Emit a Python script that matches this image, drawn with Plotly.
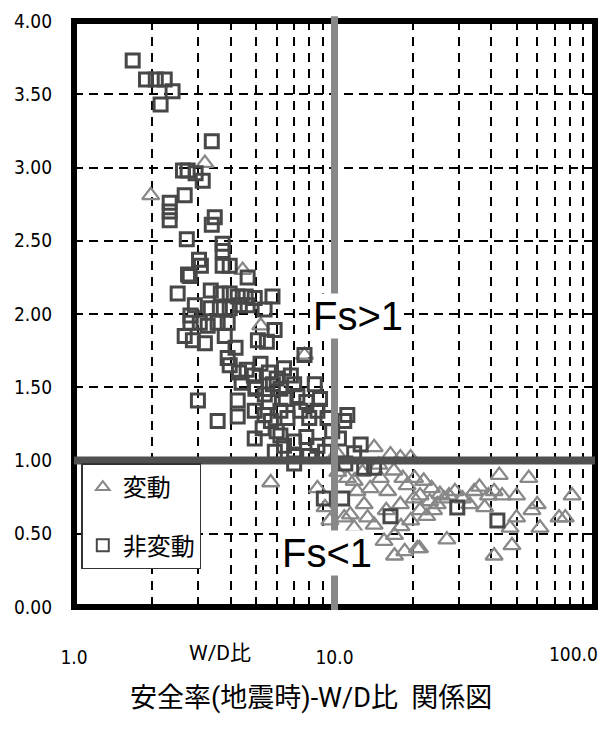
import math
import plotly.graph_objects as go

# ---------------- data ----------------
# 非変動 (squares)
nonvar_x = [1.68, 1.89, 2.06, 2.23, 2.39, 2.15, 3.38, 2.62, 2.73, 2.93, 3.12, 2.66, 2.33, 2.33, 2.33,
            3.47, 3.38, 2.71, 3.72, 3.72, 3.07, 2.78, 3.72, 3.96, 4.64, 2.50, 3.35, 3.66, 3.96, 4.25,
            4.56, 4.94, 5.78, 2.91, 3.35, 3.63, 3.96, 4.33, 4.64, 5.39, 2.80, 2.80, 3.04, 3.26, 3.56,
            3.89, 5.89, 2.66, 2.86, 3.18, 3.79, 4.17, 5.08, 5.50, 3.89, 7.67, 3.96, 4.30, 4.60, 4.90,
            5.20, 5.60, 6.00, 6.40, 6.80, 4.40, 5.00, 5.40, 5.80, 6.20, 7.00, 8.40, 2.99, 4.25, 3.56,
            4.25, 4.94, 5.39, 5.70, 6.20, 6.60, 7.40, 8.00, 8.60, 9.40, 11.2, 10.9, 4.94, 6.20, 7.00,
            7.80, 8.60, 9.20, 12.6, 11.9, 7.00, 8.00, 13.0, 14.2, 7.00, 11.0, 9.10, 10.7, 16.4, 29.6,
            42.2, 4.97, 5.60, 6.50, 7.20, 7.80, 8.80, 5.30, 6.00, 9.80, 10.4, 5.90, 6.40, 2.74, 3.02]
nonvar_y = [3.73, 3.60, 3.60, 3.60, 3.52, 3.43, 3.18, 2.98, 2.98, 2.96, 2.91, 2.81, 2.76, 2.70, 2.64,
            2.66, 2.61, 2.51, 2.48, 2.43, 2.33, 2.26, 2.33, 2.33, 2.25, 2.14, 2.16, 2.14, 2.14, 2.12,
            2.12, 2.11, 2.12, 2.06, 2.04, 2.04, 2.04, 2.06, 2.06, 2.03, 1.99, 1.94, 1.94, 1.92, 1.94,
            1.94, 1.89, 1.85, 1.82, 1.80, 1.85, 1.77, 1.82, 1.81, 1.70, 1.72, 1.65, 1.60, 1.62, 1.58,
            1.66, 1.60, 1.56, 1.63, 1.58, 1.53, 1.50, 1.45, 1.52, 1.49, 1.52, 1.52, 1.41, 1.41, 1.27,
            1.30, 1.34, 1.31, 1.27, 1.34, 1.29, 1.34, 1.29, 1.34, 1.29, 1.31, 1.27, 1.15, 1.17, 1.13,
            1.16, 1.10, 1.06, 1.11, 1.05, 1.03, 1.03, 0.95, 0.95, 0.98, 0.98, 0.74, 0.74, 0.62, 0.68,
            0.59, 1.49, 1.40, 1.42, 1.44, 1.40, 1.42, 1.22, 1.20, 1.20, 1.15, 1.06, 1.10, 2.27, 2.37]

# 変動 (triangles)
var_x = [1.97, 3.18, 4.44, 5.21, 7.67, 5.69, 11.2, 12.2, 13.7, 15.0, 16.4, 17.9, 14.2, 19.6, 9.6,
         11.5, 11.9, 13.4, 14.2, 12.2, 15.5, 17.0, 17.0, 18.6, 20.8, 19.6, 21.3, 17.9, 20.2, 16.0,
         19.0, 11.9, 10.9, 20.3, 21.3, 23.2, 24.8, 26.3, 27.5, 27.0, 21.2, 34.4, 37.7, 42.9, 44.0,
         41.0, 41.0, 48.0, 47.2, 50.0, 50.0, 55.7, 57.3, 60.0, 61.5, 72.8, 76.9, 81.7, 10.2, 12.8,
         14.8, 16.9, 18.3, 22.0, 23.6, 25.4, 29.0, 31.0, 33.0, 36.0, 39.0, 9.2, 8.6, 15.8, 22.6,
         18.0, 24.0, 13.0, 10.3]
var_y = [2.81, 3.03, 2.30, 1.92, 1.72, 0.85, 0.88, 0.79, 0.81, 0.88, 1.04, 1.02, 1.09, 1.02, 0.59,
         0.63, 0.54, 0.61, 0.56, 0.45, 0.45, 0.49, 0.35, 0.38, 0.40, 0.59, 0.66, 0.70, 0.74, 0.79,
         0.83, 0.86, 0.61, 0.88, 0.76, 0.72, 0.70, 0.74, 0.76, 0.46, 0.40, 0.79, 0.68, 0.90, 0.76,
         0.79, 0.35, 0.42, 0.54, 0.76, 0.61, 0.88, 0.66, 0.70, 0.54, 0.61, 0.61, 0.76, 1.05, 0.92,
         0.97, 0.93, 0.88, 0.86, 0.81, 0.77, 0.79, 0.74, 0.70, 0.82, 0.76, 0.68, 0.81, 0.66, 0.62,
         0.55, 0.66, 0.70, 0.92]

x_tickvals = [1, 10, 100]
x_ticktext = ["1.0", "10.0", "100.0"]
x_minor_vals = [2, 3, 4, 5, 6, 7, 8, 9, 20, 30, 40, 50, 60, 70, 80, 90]
y_tickvals = [0, 0.5, 1.0, 1.5, 2.0, 2.5, 3.0, 3.5, 4.0]
y_ticktext = ["0.00", "0.50", "1.00", "1.50", "2.00", "2.50", "3.00", "3.50", "4.00"]

fs_threshold = 1.0
wd_threshold = 10.0

# ---------------- figure ----------------
NARROW = "DejaVu Sans Condensed, Liberation Sans Narrow, Arial Narrow, Roboto, Noto Sans CJK JP, sans-serif"
CJK = "Roboto, Noto Sans CJK JP, sans-serif"
TICKFONT = dict(family=NARROW, size=19, color="black")

fig = go.Figure()
fig.add_trace(go.Scatter(
    x=var_x, y=var_y, mode="markers", name="変動", legendgroup="a",
    marker=dict(symbol="triangle-up-open", size=15, color="#888888", line=dict(width=2.3, color="#888888")),
))
fig.add_trace(go.Scatter(
    x=nonvar_x, y=nonvar_y, mode="markers", name="非変動", legendgroup="b",
    marker=dict(symbol="square-open", size=13, color="#474747", line=dict(width=3, color="#474747")),
))

# frame
fig.add_shape(type="rect", xref="paper", yref="paper", x0=0, x1=1, y0=0, y1=1,
              line=dict(color="black", width=6), layer="above")
# threshold lines
fig.add_shape(type="line", xref="paper", yref="y", x0=0, x1=1, y0=fs_threshold, y1=fs_threshold,
              line=dict(color="#505050", width=8), layer="above")
fig.add_shape(type="line", xref="x", yref="paper", x0=wd_threshold, x1=wd_threshold, y0=-0.005, y1=1.008,
              line=dict(color="#888888", width=7), layer="above")

fig.add_annotation(text="Fs>1", xref="paper", yref="paper", x=0.545, y=0.497, showarrow=False,
                   font=dict(family="Liberation Sans, Arial, sans-serif", size=40, color="black"),
                   bgcolor="white", borderpad=0)
fig.add_annotation(text="Fs<1", xref="paper", yref="paper", x=0.485, y=0.053, showarrow=False,
                   font=dict(family="Liberation Sans, Arial, sans-serif", size=40, color="black"),
                   bgcolor="white", borderpad=0)
fig.add_annotation(text="W/D比", xref="paper", yref="paper", x=0.217, y=-0.102, showarrow=False,
                   font=dict(family=CJK, size=21, color="black"))
fig.add_annotation(text="安全率(地震時)-W/D比  関係図", xref="paper", yref="paper", x=0.455, y=-0.186,
                   showarrow=False, font=dict(family=CJK, size=27, color="black"))
# last x tick label, kept inside the page edge (log axis: annotation x in log10 units)
fig.add_annotation(text=x_ticktext[-1], xref="x", yref="paper", x=math.log10(x_tickvals[-1]), y=-0.103,
                   xanchor="right", xshift=5, showarrow=False, font=TICKFONT)

fig.update_layout(
    width=611, height=729,
    margin=dict(l=66, r=24, t=13, b=130, autoexpand=False),
    paper_bgcolor="white", plot_bgcolor="white",
    showlegend=True,
    legend=dict(x=0.014, y=0.245, xanchor="left", yanchor="top",
                bgcolor="white", bordercolor="#333333", borderwidth=1.5,
                font=dict(family=CJK, size=24, color="black"),
                tracegroupgap=24, itemsizing="constant", itemwidth=30),
    xaxis=dict(type="log", range=[0, 2], tickvals=x_tickvals[:-1], ticktext=x_ticktext[:-1],
               automargin=False,
               showgrid=False, zeroline=False, showline=False, ticks="",
               ticklabelstandoff=37, tickfont=TICKFONT,
               minor=dict(tickvals=x_minor_vals, showgrid=True, gridcolor="black",
                          griddash="9px,7px", gridwidth=1.5, ticks="")),
    yaxis=dict(range=[0, 4], tickvals=y_tickvals, ticktext=y_ticktext,
               automargin=False,
               showgrid=True, gridcolor="black", griddash="9px,6px", gridwidth=1.5,
               zeroline=False, showline=False, ticks="", ticklabelstandoff=21,
               tickfont=TICKFONT),
)

fig.write_html("out.html")
